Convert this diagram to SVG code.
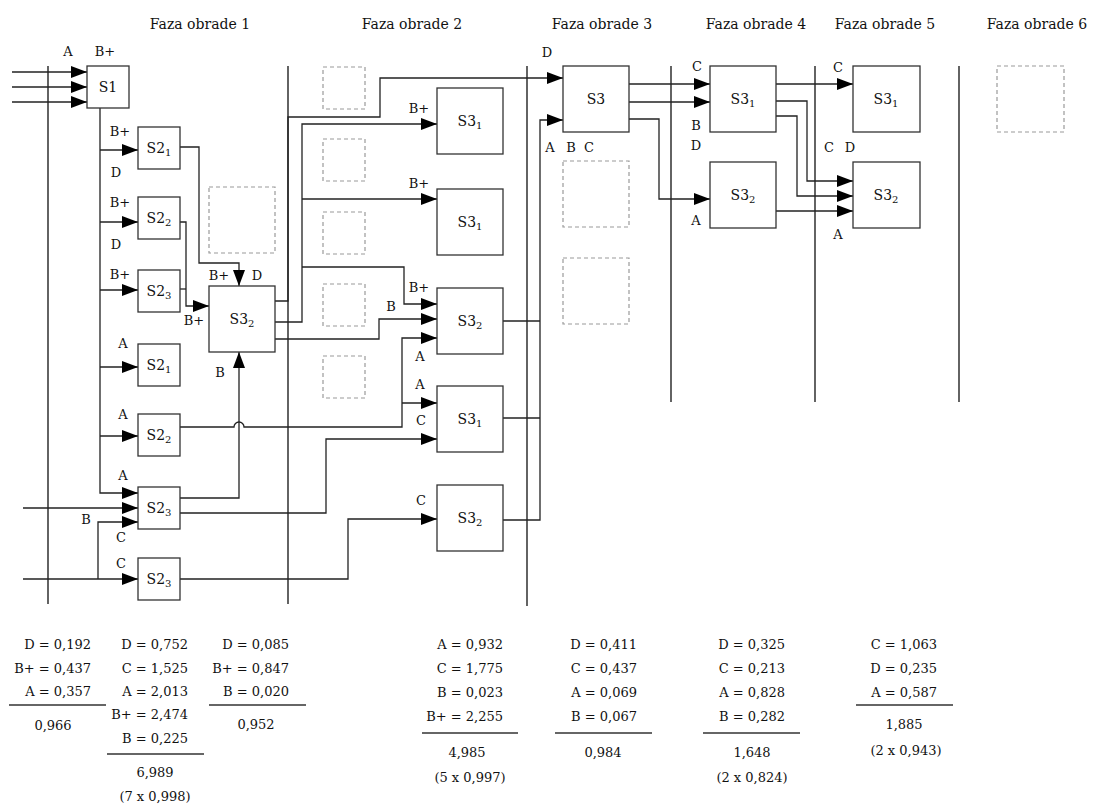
<svg xmlns="http://www.w3.org/2000/svg" width="1094" height="806" viewBox="0 0 1094 806">
<style>
.ln{fill:none;stroke:#222;stroke-width:1.3}
.dv{fill:none;stroke:#111;stroke-width:1.3}
.bx{fill:#fff;stroke:#333;stroke-width:1.3}
.ds{fill:none;stroke:#9a9a9a;stroke-width:1.2;stroke-dasharray:4 3}
.tbl{fill:none;stroke:#333;stroke-width:1.3}
text{font-family:"DejaVu Serif","Liberation Serif",serif;font-size:13px;fill:#111}
.c{text-anchor:middle}
.e{text-anchor:end}
.ttl{font-size:14px;text-anchor:middle}
.nl{font-size:14px;text-anchor:middle}
.sb{font-size:10px}
</style>
<defs>
<marker id="ah" markerWidth="16" markerHeight="12" refX="16" refY="6" orient="auto" markerUnits="userSpaceOnUse"><path d="M0,0 L16,6 L0,12 z" fill="#000"/></marker>
</defs>
<rect width="1094" height="806" fill="#fff"/>

<g id="titles">
<text class="ttl" x="200" y="29">Faza obrade 1</text>
<text class="ttl" x="412" y="29">Faza obrade 2</text>
<text class="ttl" x="602" y="29">Faza obrade 3</text>
<text class="ttl" x="756" y="29">Faza obrade 4</text>
<text class="ttl" x="885" y="29">Faza obrade 5</text>
<text class="ttl" x="1037" y="29">Faza obrade 6</text>
</g>

<g id="dividers">
<path class="dv" d="M48,66 V604 M288,66 V604 M527,66 V606 M671,66 V402 M815,66 V402 M959,66 V402"/>
</g>

<g id="placeholders">
<rect class="ds" x="209" y="187" width="66" height="66"/>
<rect class="ds" x="323" y="67" width="42" height="42"/>
<rect class="ds" x="323" y="139" width="42" height="42"/>
<rect class="ds" x="323" y="212" width="42" height="42"/>
<rect class="ds" x="323" y="284" width="42" height="42"/>
<rect class="ds" x="323" y="356" width="42" height="42"/>
<rect class="ds" x="563" y="161" width="66" height="66"/>
<rect class="ds" x="563" y="258" width="66" height="66"/>
<rect class="ds" x="997" y="66" width="67" height="66"/>
</g>

<g id="connectors">
<path class="ln" d="M12,72 H87" marker-end="url(#ah)"/>
<path class="ln" d="M12,87 H87" marker-end="url(#ah)"/>
<path class="ln" d="M12,102 H87" marker-end="url(#ah)"/>
<path class="ln" d="M100,108 V493 H138" marker-end="url(#ah)"/>
<path class="ln" d="M100,150 H138" marker-end="url(#ah)"/>
<path class="ln" d="M100,222 H138" marker-end="url(#ah)"/>
<path class="ln" d="M100,290 H138" marker-end="url(#ah)"/>
<path class="ln" d="M100,367 H138" marker-end="url(#ah)"/>
<path class="ln" d="M100,436 H138" marker-end="url(#ah)"/>
<path class="ln" d="M23,508 H138" marker-end="url(#ah)"/>
<path class="ln" d="M23,579 H138" marker-end="url(#ah)"/>
<path class="ln" d="M98,579 V522 H138" marker-end="url(#ah)"/>

<path class="ln" d="M180,147 H199 V263 H239 V286" marker-end="url(#ah)"/>
<path class="ln" d="M180,222 H186 V306 H209" marker-end="url(#ah)"/>
<path class="ln" d="M180,289 H186"/>
<path class="ln" d="M180,427 H234 A5,5 0 0 1 244,427 H402 V338 H437" marker-end="url(#ah)"/>
<path class="ln" d="M402,403 H437" marker-end="url(#ah)"/>
<path class="ln" d="M180,498 H239 V352" marker-end="url(#ah)"/>
<path class="ln" d="M180,513 H326 V439 H437" marker-end="url(#ah)"/>
<path class="ln" d="M180,579 H348 V519 H437" marker-end="url(#ah)"/>

<path class="ln" d="M275,301 H288 V117 H380 V78 H563" marker-end="url(#ah)"/>
<path class="ln" d="M275,322 H302 V124 H437" marker-end="url(#ah)"/>
<path class="ln" d="M302,199 H437" marker-end="url(#ah)"/>
<path class="ln" d="M302,267 H404 V304 H437" marker-end="url(#ah)"/>
<path class="ln" d="M275,339 H379 V319 H437" marker-end="url(#ah)"/>

<path class="ln" d="M503,321 H540"/>
<path class="ln" d="M503,418 H540"/>
<path class="ln" d="M503,520 H540 V120 H563" marker-end="url(#ah)"/>

<path class="ln" d="M629,84 H710" marker-end="url(#ah)"/>
<path class="ln" d="M629,102 H710" marker-end="url(#ah)"/>
<path class="ln" d="M629,119 H659 V199 H710" marker-end="url(#ah)"/>

<path class="ln" d="M776,84 H853" marker-end="url(#ah)"/>
<path class="ln" d="M776,101 H807 V181 H853" marker-end="url(#ah)"/>
<path class="ln" d="M776,116 H797 V196 H853" marker-end="url(#ah)"/>
<path class="ln" d="M776,211 H853" marker-end="url(#ah)"/>
</g>

<g id="labels">
<text class="c" x="68" y="56">A</text>
<text class="c" x="105" y="56">B+</text>
<text class="c" x="120" y="136">B+</text>
<text class="c" x="116" y="177">D</text>
<text class="c" x="120" y="207">B+</text>
<text class="c" x="116" y="249">D</text>
<text class="c" x="120" y="279">B+</text>
<text class="c" x="123" y="348">A</text>
<text class="c" x="123" y="419">A</text>
<text class="c" x="123" y="480">A</text>
<text class="c" x="86" y="524">B</text>
<text class="c" x="121" y="542">C</text>
<text class="c" x="121" y="568">C</text>
<text class="c" x="219" y="280">B+</text>
<text class="c" x="257" y="280">D</text>
<text class="c" x="194" y="325">B+</text>
<text class="c" x="220" y="377">B</text>
<text class="c" x="419" y="113">B+</text>
<text class="c" x="419" y="188">B+</text>
<text class="c" x="419" y="292">B+</text>
<text class="c" x="391" y="311">B</text>
<text class="c" x="420" y="361">A</text>
<text class="c" x="420" y="389">A</text>
<text class="c" x="421" y="425">C</text>
<text class="c" x="421" y="505">C</text>
<text class="c" x="547" y="57">D</text>
<text class="c" x="550" y="152">A</text>
<text class="c" x="571" y="152">B</text>
<text class="c" x="589" y="152">C</text>
<text class="c" x="697" y="71">C</text>
<text class="c" x="696" y="130">B</text>
<text class="c" x="696" y="150">D</text>
<text class="c" x="696" y="225">A</text>
<text class="c" x="838" y="72">C</text>
<text class="c" x="829" y="152">C</text>
<text class="c" x="850" y="152">D</text>
<text class="c" x="838" y="239">A</text>
</g>

<g id="n-S1"><rect class="bx" x="87" y="66" width="42" height="42"/><text class="nl" x="108" y="92">S1</text></g>
<g id="n-S2-1a"><rect class="bx" x="138" y="127" width="42" height="42"/><text class="nl" x="159" y="153">S2<tspan class="sb" dy="3">1</tspan></text></g>
<g id="n-S2-2a"><rect class="bx" x="138" y="197" width="42" height="42"/><text class="nl" x="159" y="223">S2<tspan class="sb" dy="3">2</tspan></text></g>
<g id="n-S2-3a"><rect class="bx" x="138" y="270" width="42" height="42"/><text class="nl" x="159" y="296">S2<tspan class="sb" dy="3">3</tspan></text></g>
<g id="n-S2-1b"><rect class="bx" x="138" y="344" width="42" height="42"/><text class="nl" x="159" y="370">S2<tspan class="sb" dy="3">1</tspan></text></g>
<g id="n-S2-2b"><rect class="bx" x="138" y="414" width="42" height="42"/><text class="nl" x="159" y="440">S2<tspan class="sb" dy="3">2</tspan></text></g>
<g id="n-S2-3b"><rect class="bx" x="138" y="487" width="42" height="42"/><text class="nl" x="159" y="513">S2<tspan class="sb" dy="3">3</tspan></text></g>
<g id="n-S2-3c"><rect class="bx" x="138" y="558" width="42" height="42"/><text class="nl" x="159" y="584">S2<tspan class="sb" dy="3">3</tspan></text></g>
<g id="n-S3-2p1"><rect class="bx" x="209" y="286" width="66" height="66"/><text class="nl" x="242" y="324">S3<tspan class="sb" dy="3">2</tspan></text></g>

<g id="n-S3-1a"><rect class="bx" x="437" y="88" width="66" height="66"/><text class="nl" x="470" y="126">S3<tspan class="sb" dy="3">1</tspan></text></g>
<g id="n-S3-1b"><rect class="bx" x="437" y="189" width="66" height="66"/><text class="nl" x="470" y="227">S3<tspan class="sb" dy="3">1</tspan></text></g>
<g id="n-S3-2a"><rect class="bx" x="437" y="288" width="66" height="66"/><text class="nl" x="470" y="326">S3<tspan class="sb" dy="3">2</tspan></text></g>
<g id="n-S3-1c"><rect class="bx" x="437" y="386" width="66" height="66"/><text class="nl" x="470" y="424">S3<tspan class="sb" dy="3">1</tspan></text></g>
<g id="n-S3-2b"><rect class="bx" x="437" y="485" width="66" height="66"/><text class="nl" x="470" y="523">S3<tspan class="sb" dy="3">2</tspan></text></g>

<g id="n-S3"><rect class="bx" x="563" y="66" width="66" height="66"/><text class="nl" x="596" y="104">S3</text></g>
<g id="n-S3-1p4"><rect class="bx" x="710" y="66" width="66" height="66"/><text class="nl" x="743" y="104">S3<tspan class="sb" dy="3">1</tspan></text></g>
<g id="n-S3-2p4"><rect class="bx" x="710" y="162" width="66" height="66"/><text class="nl" x="743" y="200">S3<tspan class="sb" dy="3">2</tspan></text></g>
<g id="n-S3-1p5"><rect class="bx" x="853" y="66" width="67" height="66"/><text class="nl" x="886" y="104">S3<tspan class="sb" dy="3">1</tspan></text></g>
<g id="n-S3-2p5"><rect class="bx" x="853" y="162" width="67" height="66"/><text class="nl" x="886" y="200">S3<tspan class="sb" dy="3">2</tspan></text></g>

<g id="table-1">
<text class="e" x="91" y="649">D = 0,192</text>
<text class="e" x="91" y="673">B+ = 0,437</text>
<text class="e" x="91" y="696">A = 0,357</text>
<path class="tbl" d="M9,705 H106"/>
<text class="c" x="53" y="730">0,966</text>
</g>
<g id="table-2">
<text class="e" x="188" y="649">D = 0,752</text>
<text class="e" x="188" y="673">C = 1,525</text>
<text class="e" x="188" y="696">A = 2,013</text>
<text class="e" x="188" y="719">B+ = 2,474</text>
<text class="e" x="188" y="743">B = 0,225</text>
<path class="tbl" d="M107,754 H204"/>
<text class="c" x="155" y="777">6,989</text>
<text class="c" x="155" y="801">(7 x 0,998)</text>
</g>
<g id="table-3">
<text class="e" x="289" y="649">D = 0,085</text>
<text class="e" x="289" y="673">B+ = 0,847</text>
<text class="e" x="289" y="696">B = 0,020</text>
<path class="tbl" d="M209,705 H306"/>
<text class="c" x="256" y="729">0,952</text>
</g>
<g id="table-4">
<text class="e" x="503" y="649">A = 0,932</text>
<text class="e" x="503" y="673">C = 1,775</text>
<text class="e" x="503" y="697">B = 0,023</text>
<text class="e" x="503" y="721">B+ = 2,255</text>
<path class="tbl" d="M422,733 H518"/>
<text class="c" x="467" y="757">4,985</text>
<text class="c" x="470" y="782">(5 x 0,997)</text>
</g>
<g id="table-5">
<text class="e" x="637" y="649">D = 0,411</text>
<text class="e" x="637" y="673">C = 0,437</text>
<text class="e" x="637" y="697">A = 0,069</text>
<text class="e" x="637" y="721">B = 0,067</text>
<path class="tbl" d="M555,733 H652"/>
<text class="c" x="603" y="757">0,984</text>
</g>
<g id="table-6">
<text class="e" x="785" y="649">D = 0,325</text>
<text class="e" x="785" y="673">C = 0,213</text>
<text class="e" x="785" y="697">A = 0,828</text>
<text class="e" x="785" y="721">B = 0,282</text>
<path class="tbl" d="M703,733 H800"/>
<text class="c" x="752" y="757">1,648</text>
<text class="c" x="752" y="782">(2 x 0,824)</text>
</g>
<g id="table-7">
<text class="e" x="937" y="649">C = 1,063</text>
<text class="e" x="937" y="673">D = 0,235</text>
<text class="e" x="937" y="697">A = 0,587</text>
<path class="tbl" d="M856,705 H953"/>
<text class="c" x="904" y="729">1,885</text>
<text class="c" x="906" y="755">(2 x 0,943)</text>
</g>
</svg>
